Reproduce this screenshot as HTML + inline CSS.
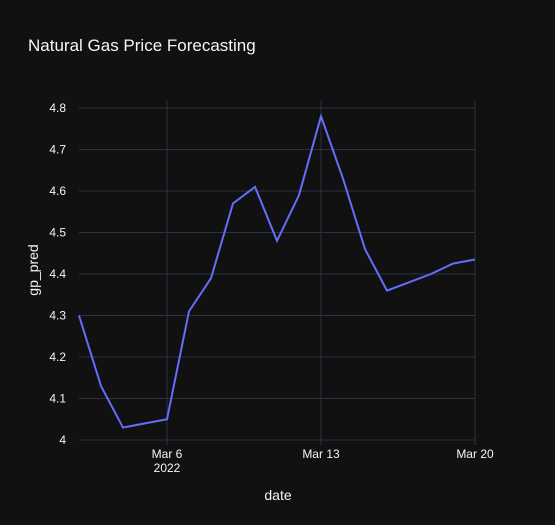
<!DOCTYPE html>
<html><head><meta charset="utf-8"><style>
body{margin:0;background:#111111;}
svg{display:block;font-family:"Liberation Sans",sans-serif;}
</style></head><body>
<svg id="chart" width="555" height="525">
<rect width="555" height="525" fill="#111111"/>
<text x="28" y="51" fill="#f2f5fa" font-size="17">Natural Gas Price Forecasting</text>
<g id="grid"></g>
<g id="ticks"></g>
<path id="line" fill="none" stroke="#636efa" stroke-width="2"/>
<text x="278" y="500" fill="#f2f5fa" font-size="14" text-anchor="middle">date</text>
<text transform="translate(38,270) rotate(-90)" fill="#f2f5fa" font-size="14" text-anchor="middle">gp_pred</text>
</svg>
<script>
const days = [2,3,4,5,6,7,8,9,10,11,12,13,14,15,16,17,18,19,20];
const values = [4.30,4.13,4.03,4.04,4.05,4.31,4.39,4.57,4.61,4.48,4.59,4.78,4.63,4.46,4.36,4.38,4.40,4.425,4.435];
const yTicks = [4,4.1,4.2,4.3,4.4,4.5,4.6,4.7,4.8];
const yTickLabels = ["4","4.1","4.2","4.3","4.4","4.5","4.6","4.7","4.8"];
const xTicks = [6,13,20];
const xTickLabels = ["Mar 6","Mar 13","Mar 20"];
const NS="http://www.w3.org/2000/svg";
const L=79,R=475,T=100,B=445;
const x=d=>L+(d-2)*(R-L)/18;
const y=v=>440-(v-4)*415;
const grid=document.getElementById('grid'),ticks=document.getElementById('ticks');
yTicks.forEach((t,i)=>{
  const l=document.createElementNS(NS,'line');
  l.setAttribute('x1',L);l.setAttribute('x2',R);l.setAttribute('y1',y(t));l.setAttribute('y2',y(t));
  l.setAttribute('stroke','#283442');l.setAttribute('stroke-width','1');
  
  
  grid.appendChild(l);
  const tx=document.createElementNS(NS,'text');
  tx.setAttribute('x',L-13);tx.setAttribute('y',y(t)+4);tx.setAttribute('fill','#f2f5fa');
  tx.setAttribute('font-size','12');tx.setAttribute('text-anchor','end');tx.textContent=yTickLabels[i];
  
  
  ticks.appendChild(tx);
});
xTicks.forEach((t,i)=>{
  const l=document.createElementNS(NS,'line');
  l.setAttribute('x1',x(t));l.setAttribute('x2',x(t));l.setAttribute('y1',T);l.setAttribute('y2',B);
  l.setAttribute('stroke','#283442');l.setAttribute('stroke-width','1');
  
  
  grid.appendChild(l);
  const tx=document.createElementNS(NS,'text');
  tx.setAttribute('x',x(t));tx.setAttribute('y',458);tx.setAttribute('fill','#f2f5fa');
  tx.setAttribute('font-size','12');tx.setAttribute('text-anchor','middle');tx.textContent=xTickLabels[i];
  
  
  ticks.appendChild(tx);
});
const yr=document.createElementNS(NS,'text');
yr.setAttribute('x',x(6));yr.setAttribute('y',472);yr.setAttribute('fill','#f2f5fa');
yr.setAttribute('font-size','12');yr.setAttribute('text-anchor','middle');yr.textContent='2022';


ticks.appendChild(yr);
document.getElementById('line').setAttribute('d',days.map((d,i)=>(i?'L':'M')+x(d)+','+y(values[i])).join(''));
</script>
</body></html>
